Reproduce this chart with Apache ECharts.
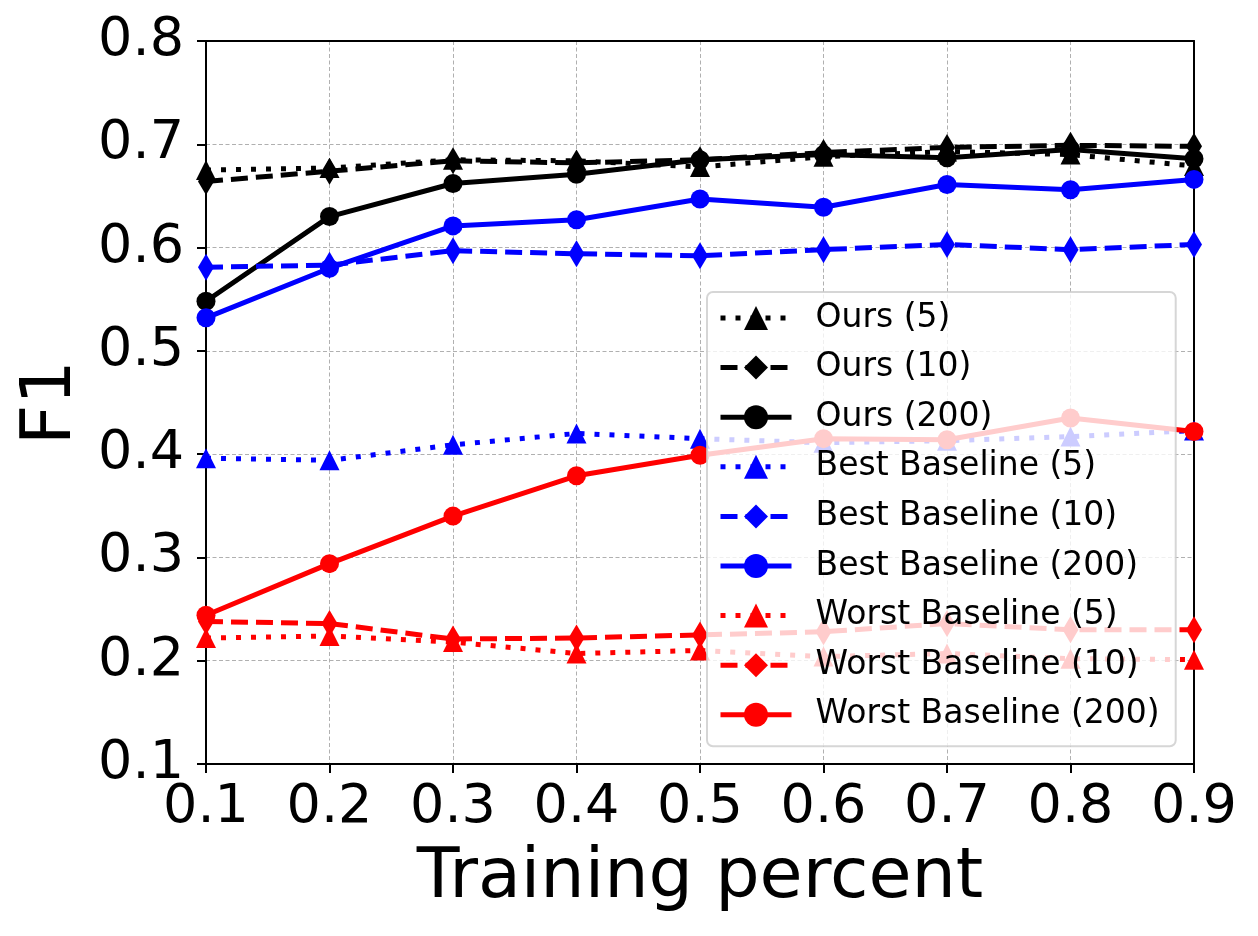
<!DOCTYPE html>
<html lang="en">
<head>
    <meta charset="UTF-8">
    <title>F1 vs training percent</title>
    <style>
        body { margin: 0; background: #fff; }
    </style>
</head>
<body>
    <div id="main" style="width: 1258px;height:936px;"></div>
    <script src="https://cdn.jsdelivr.net/npm/echarts@6/dist/echarts.min.js"></script>
<script>
    // x 轴: training percent
    var xs = [0.1, 0.2, 0.3, 0.4, 0.5, 0.6, 0.7, 0.8, 0.9];

    // F1 values
    var ours5    = [0.675, 0.677, 0.685, 0.684, 0.678, 0.688, 0.693, 0.690, 0.679];
    var ours10   = [0.664, 0.674, 0.684, 0.682, 0.685, 0.692, 0.697, 0.699, 0.698];
    var ours200  = [0.548, 0.630, 0.662, 0.671, 0.685, 0.690, 0.687, 0.695, 0.686];
    var best5    = [0.396, 0.394, 0.409, 0.420, 0.415, 0.411, 0.413, 0.417, 0.423];
    var best10   = [0.581, 0.583, 0.597, 0.594, 0.592, 0.598, 0.603, 0.598, 0.603];
    var best200  = [0.532, 0.580, 0.621, 0.627, 0.647, 0.639, 0.661, 0.656, 0.666];
    var worst5   = [0.222, 0.224, 0.218, 0.207, 0.210, 0.204, 0.207, 0.202, 0.201];
    var worst10  = [0.238, 0.236, 0.221, 0.222, 0.225, 0.228, 0.236, 0.230, 0.230];
    var worst200 = [0.244, 0.294, 0.340, 0.379, 0.399, 0.415, 0.414, 0.435, 0.422];

    var names = ['Ours (5)', 'Ours (10)', 'Ours (200)',
        'Best Baseline (5)', 'Best Baseline (10)', 'Best Baseline (200)',
        'Worst Baseline (5)', 'Worst Baseline (10)', 'Worst Baseline (200)'];

    var font = 'DejaVu Sans';
    var LW = 5;
    var DOTTED = [5, 10];
    var DASHED = [17, 8];

    function pairs(ys) {
        return xs.map(function (x, i) { return [x, ys[i]]; });
    }

    // kind: 5 -> 点线+三角, 10 -> 虚线+菱形, 200 -> 实线+圆
    function makeSeries(name, ys, color, kind) {
        var s = {
            name: name,
            type: 'line',
            data: pairs(ys),
            color: color,
            lineStyle: { color: color, width: LW },
            itemStyle: { color: color },
            symbol: 'circle',
            symbolSize: 19,
            showAllSymbol: true,
            clip: true,
            animation: false
        };
        if (kind === 5) {
            s.symbol = 'triangle';
            s.symbolSize = 20;
            s.lineStyle.type = DOTTED;
        } else if (kind === 10) {
            s.symbol = 'diamond';
            s.symbolSize = [16, 27];
            s.lineStyle.type = DASHED;
        }
        return s;
    }

    var myChart = echarts.init(document.getElementById('main'));

    var gridLine = { show: true, lineStyle: { color: '#b0b0b0', width: 1, type: [4, 2.5] } };
    var tick = { show: true, length: 9, lineStyle: { color: '#000', width: 2 } };
    var blackLine = { show: true, lineStyle: { color: '#000', width: 2 } };
    function fmt(v) { return v.toFixed(1); }

    var option = {
        backgroundColor: '#ffffff',
        animation: false,
        grid: {
            left: 206,
            right: 64,
            top: 41,
            bottom: 172
        },
        xAxis: [{
            type: 'value',
            min: 0.1,
            max: 0.9,
            interval: 0.1,
            name: 'Training percent',
            nameLocation: 'middle',
            nameGap: 80,
            nameTextStyle: { fontFamily: font, fontSize: 70, color: '#000' },
            axisLine: blackLine,
            axisTick: tick,
            axisLabel: { fontFamily: font, fontSize: 54, color: '#000', margin: 17, formatter: fmt },
            splitLine: gridLine
        }, {
            // 上边框
            type: 'value',
            position: 'top',
            min: 0.1,
            max: 0.9,
            interval: 0.1,
            axisLine: blackLine,
            axisTick: { show: false },
            axisLabel: { show: false },
            splitLine: { show: false }
        }],
        yAxis: [{
            type: 'value',
            min: 0.1,
            max: 0.8,
            interval: 0.1,
            name: 'F1',
            nameLocation: 'middle',
            nameGap: 112,
            nameTextStyle: { fontFamily: font, fontSize: 70, color: '#000' },
            axisLine: blackLine,
            axisTick: tick,
            axisLabel: { fontFamily: font, fontSize: 54, color: '#000', margin: 22, formatter: fmt },
            splitLine: gridLine
        }, {
            // 右边框
            type: 'value',
            position: 'right',
            min: 0.1,
            max: 0.8,
            interval: 0.1,
            axisLine: blackLine,
            axisTick: { show: false },
            axisLabel: { show: false },
            splitLine: { show: false }
        }],
        legend: {
            data: names,
            orient: 'vertical',
            left: 707,
            top: 292,
            itemWidth: 71,
            itemHeight: 30,
            itemGap: 16.6,
            padding: [9.5, 16, 15, 11],
            backgroundColor: 'rgba(255,255,255,0.8)',
            borderColor: 'rgba(204,204,204,0.8)',
            borderWidth: 2,
            borderRadius: 6,
            lineStyle: { width: LW },
            textStyle: {
                fontFamily: font, fontSize: 33, color: '#000',
                lineHeight: 33, padding: [0, 0, 0, 19]
            }
        },
        series: [
            makeSeries(names[0], ours5, '#000000', 5),
            makeSeries(names[1], ours10, '#000000', 10),
            makeSeries(names[2], ours200, '#000000', 200),
            makeSeries(names[3], best5, '#0000ff', 5),
            makeSeries(names[4], best10, '#0000ff', 10),
            makeSeries(names[5], best200, '#0000ff', 200),
            makeSeries(names[6], worst5, '#ff0000', 5),
            makeSeries(names[7], worst10, '#ff0000', 10),
            makeSeries(names[8], worst200, '#ff0000', 200)
        ]
    };

    option && myChart.setOption(option);
</script>
</body>
</html>
